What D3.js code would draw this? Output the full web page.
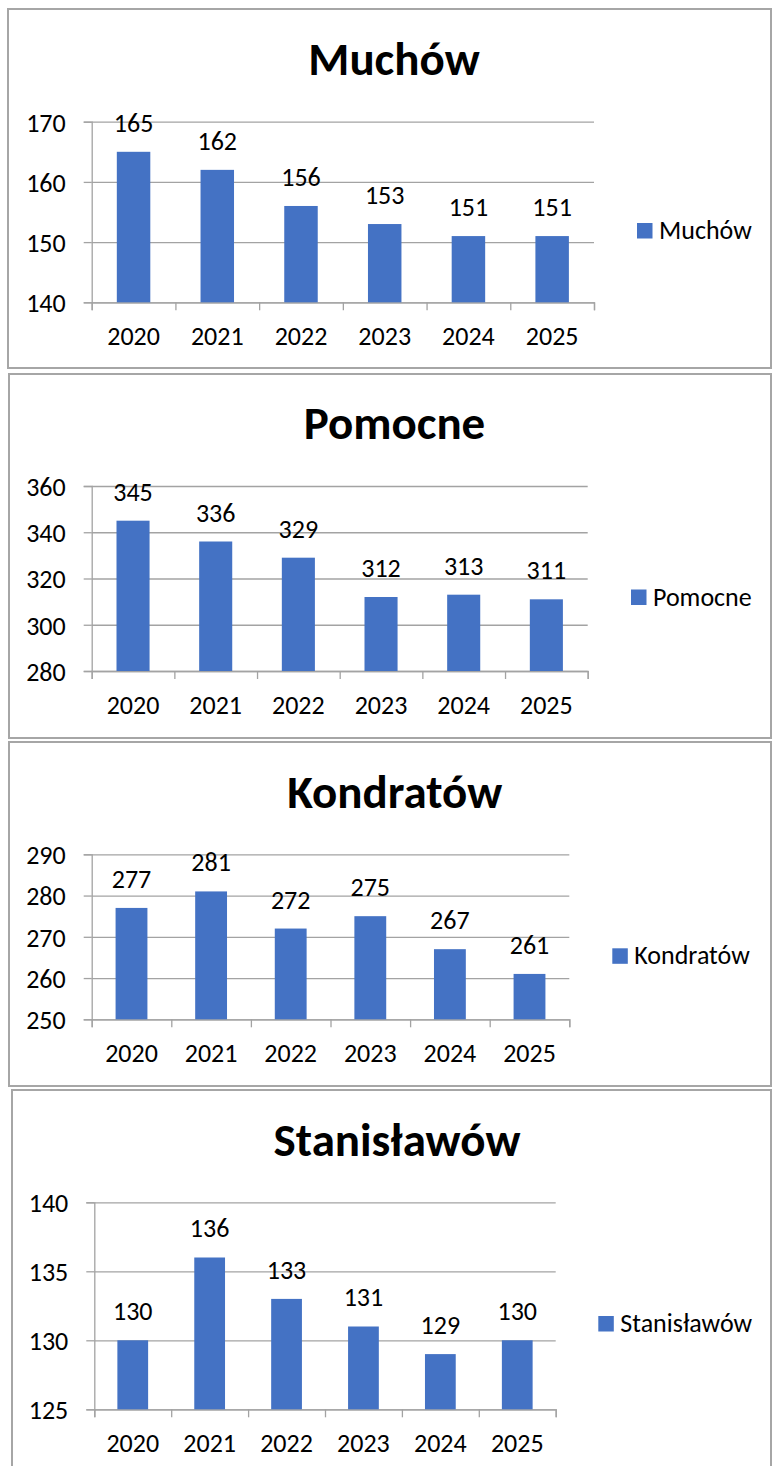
<!DOCTYPE html>
<html>
<head>
<meta charset="utf-8">
<script src="https://cdn.jsdelivr.net/npm/d3@7"></script>
<style>
  body { margin: 0; background: #fff; }
  text { font-family: Carlito, Calibri, Lato, sans-serif; fill: #000; }
</style>
</head>
<body>
<svg id="chart" width="772" height="1466"></svg>
<script>
'use strict';

// Data
var years = ['2020', '2021', '2022', '2023', '2024', '2025'];

var muchowValues = [165, 162, 156, 153, 151, 151];
var pomocneValues = [345, 336, 329, 312, 313, 311];
var kondratowValues = [277, 281, 272, 275, 267, 261];
var stanislawowValues = [130, 136, 133, 131, 129, 130];

var muchowTicks = [140, 150, 160, 170];
var pomocneTicks = [280, 300, 320, 340, 360];
var kondratowTicks = [250, 260, 270, 280, 290];
var stanislawowTicks = [125, 130, 135, 140];

var barColor = '#4472C4';
var lineColor = '#a3a3a3';
var fontSize = 26;

var svg = d3.select('#chart');

//Draws one framed bar chart
function drawChart(name, values, ticks, box) {
  var g = svg.append('g');

  //Frame
  g.append('rect')
    .attr('x', box.frame[0]).attr('y', box.frame[1])
    .attr('width', box.frame[2]).attr('height', box.frame[3])
    .attr('fill', '#fff').attr('stroke', '#a6a6a6').attr('stroke-width', 2);

  var plotW = box.right - box.left;
  var plotH = box.bottom - box.top;

  //Scales
  var xScale = d3.scaleBand().domain(years).range([0, plotW]).paddingInner(0.6).paddingOuter(0.3);
  var yScale = d3.scaleLinear().domain(d3.extent(ticks)).range([plotH, 0]);
  var edgeScale = d3.scaleLinear().domain([0, years.length]).range([0, plotW]);

  var plot = g.append('g').attr('transform', 'translate(' + box.left + ',' + box.top + ')');

  //Gridlines
  plot.append('g').classed('grid', true)
    .call(d3.axisLeft(yScale).tickValues(ticks).tickSize(-plotW).tickFormat(''))
    .call(function (s) { s.select('.domain').remove(); })
    .selectAll('line').attr('stroke', lineColor).attr('stroke-width', 1.3);

  //Y axis
  var yAxis = plot.append('g').classed('y-axis', true)
    .call(d3.axisLeft(yScale).tickValues(ticks).tickSize(8).tickPadding(18));
  yAxis.selectAll('line, path').attr('stroke', lineColor).attr('stroke-width', 1.3);
  yAxis.selectAll('text').attr('font-size', fontSize).attr('dy', '0.36em').style('font-family', null);

  //X axis tick marks at category edges
  var xEdges = plot.append('g').attr('transform', 'translate(0,' + plotH + ')')
    .call(d3.axisBottom(edgeScale).ticks(years.length).tickSize(8).tickFormat(''));
  xEdges.selectAll('line, path').attr('stroke', lineColor).attr('stroke-width', 1.3);

  //X labels
  var xLabels = plot.append('g').attr('transform', 'translate(0,' + plotH + ')')
    .call(d3.axisBottom(xScale).tickSize(0));
  xLabels.select('.domain').remove();
  xLabels.selectAll('text').attr('font-size', fontSize).attr('y', 42.7).attr('dy', 0).style('font-family', null);

  //Bars
  plot.selectAll('rect.bar').data(values).enter().append('rect')
    .classed('bar', true)
    .attr('x', function (d, i) { return xScale(years[i]); })
    .attr('y', function (d) { return yScale(d); })
    .attr('width', xScale.bandwidth())
    .attr('height', function (d) { return plotH - yScale(d); })
    .attr('fill', barColor);

  //Data labels
  plot.selectAll('text.val').data(values).enter().append('text')
    .classed('val', true)
    .attr('x', function (d, i) { return xScale(years[i]) + xScale.bandwidth() / 2; })
    .attr('y', function (d) { return yScale(d) - 20; })
    .attr('text-anchor', 'middle').attr('font-size', fontSize)
    .text(function (d) { return d; });

  //Title
  g.append('text')
    .attr('x', box.titleX).attr('y', box.titleY)
    .attr('text-anchor', 'middle').attr('font-size', 47).attr('font-weight', 'bold')
    .text(name);

  //Legend
  g.append('rect')
    .attr('x', box.legendX).attr('y', box.legendY)
    .attr('width', 15.5).attr('height', 15.5).attr('fill', barColor);
  g.append('text')
    .attr('x', box.legendX + 22).attr('y', box.legendY + 16)
    .attr('font-size', fontSize).text(name);
}

drawChart('Muchów', muchowValues, muchowTicks, {
  frame: [8, 9, 763, 359], left: 91.7, right: 594, top: 121.7, bottom: 302.3,
  titleX: 394, titleY: 75, legendX: 637, legendY: 223
});
drawChart('Pomocne', pomocneValues, pomocneTicks, {
  frame: [9, 374, 762, 364], left: 91.7, right: 587.7, top: 486, bottom: 671,
  titleX: 394.5, titleY: 439, legendX: 631, legendY: 589.5
});
drawChart('Kondratów', kondratowValues, kondratowTicks, {
  frame: [9, 742, 762, 344], left: 91.7, right: 569.3, top: 854.3, bottom: 1019.3,
  titleX: 394.7, titleY: 808, legendX: 612.3, legendY: 948.3
});
drawChart('Stanisławów', stanislawowValues, stanislawowTicks, {
  frame: [12, 1090, 759, 400], left: 94.3, right: 555.7, top: 1202.3, bottom: 1409.3,
  titleX: 397, titleY: 1156, legendX: 598.3, legendY: 1316
});
</script>
</body>
</html>
